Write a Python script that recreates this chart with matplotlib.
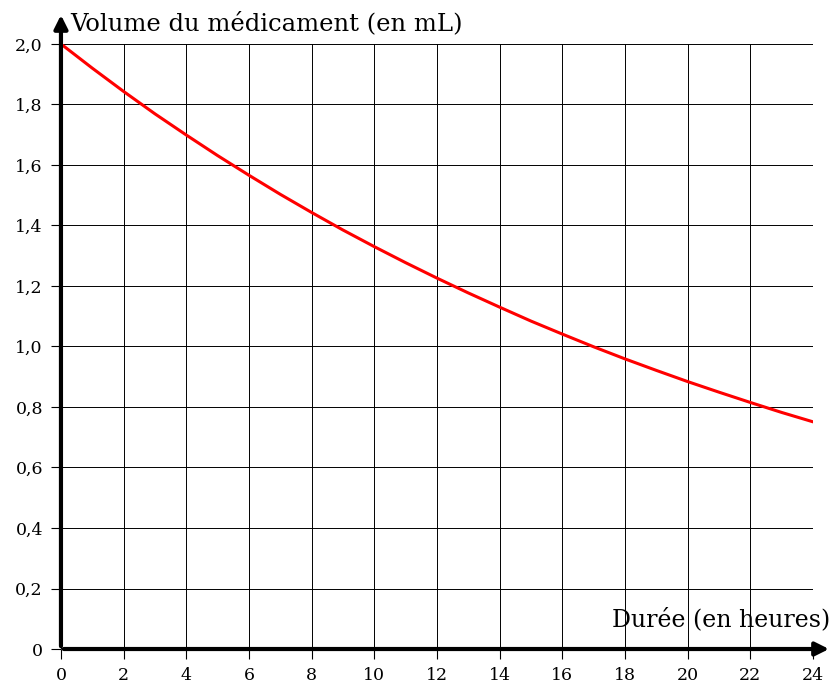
import matplotlib
matplotlib.use("Agg")
import matplotlib.pyplot as plt

# volume, one value per hour
heures = list(range(0, 25))
volume = [2.000, 1.920, 1.843, 1.769, 1.699, 1.631, 1.566, 1.503, 1.443, 1.385,
          1.330, 1.277, 1.226, 1.177, 1.130, 1.084, 1.041, 0.999, 0.959, 0.921,
          0.884, 0.849, 0.815, 0.782, 0.751]

xticks = list(range(0, 25, 2))
yticks = [0, 0.2, 0.4, 0.6, 0.8, 1.0, 1.2, 1.4, 1.6, 1.8, 2.0]
ylabels = ["0", "0,2", "0,4", "0,6", "0,8", "1,0", "1,2", "1,4", "1,6", "1,8", "2,0"]

plt.rcParams['font.family'] = ['DejaVu Serif']

fig = plt.figure(figsize=(8.34, 6.87), dpi=100)
ax = fig.add_axes([0.0731, 0.0553, 0.9017, 0.8807])

ax.set_xlim(0, 24)
ax.set_ylim(0, 2.0)
ax.set_xticks(xticks)
ax.set_xticklabels([str(t) for t in xticks])
ax.set_yticks(yticks)
ax.set_yticklabels(ylabels)
ax.tick_params(direction='out', length=7, width=0.8, labelsize=12.5, pad=6)

for s in ax.spines.values():
    s.set_visible(False)
ax.grid(True, color='black', linewidth=0.7)
ax.set_axisbelow(True)

ax.plot(heures, volume, color='red', lw=2.2, zorder=3)

# axes with arrows
ax.annotate("", xy=(24.6, 0), xytext=(0, 0), xycoords='data',
            arrowprops=dict(arrowstyle='-|>', lw=3, color='black', mutation_scale=20),
            annotation_clip=False, zorder=4)
ax.annotate("", xy=(0, 2.105), xytext=(0, 0), xycoords='data',
            arrowprops=dict(arrowstyle='-|>', lw=3, color='black', mutation_scale=20),
            annotation_clip=False, zorder=4)

ax.text(0.3, 2.03, "Volume du médicament (en mL)", fontsize=17.5, ha='left', va='bottom')
ax.text(24.55, 0.06, "Durée (en heures)", fontsize=17, ha='right', va='bottom')

fig.savefig("out.png", dpi=100)
